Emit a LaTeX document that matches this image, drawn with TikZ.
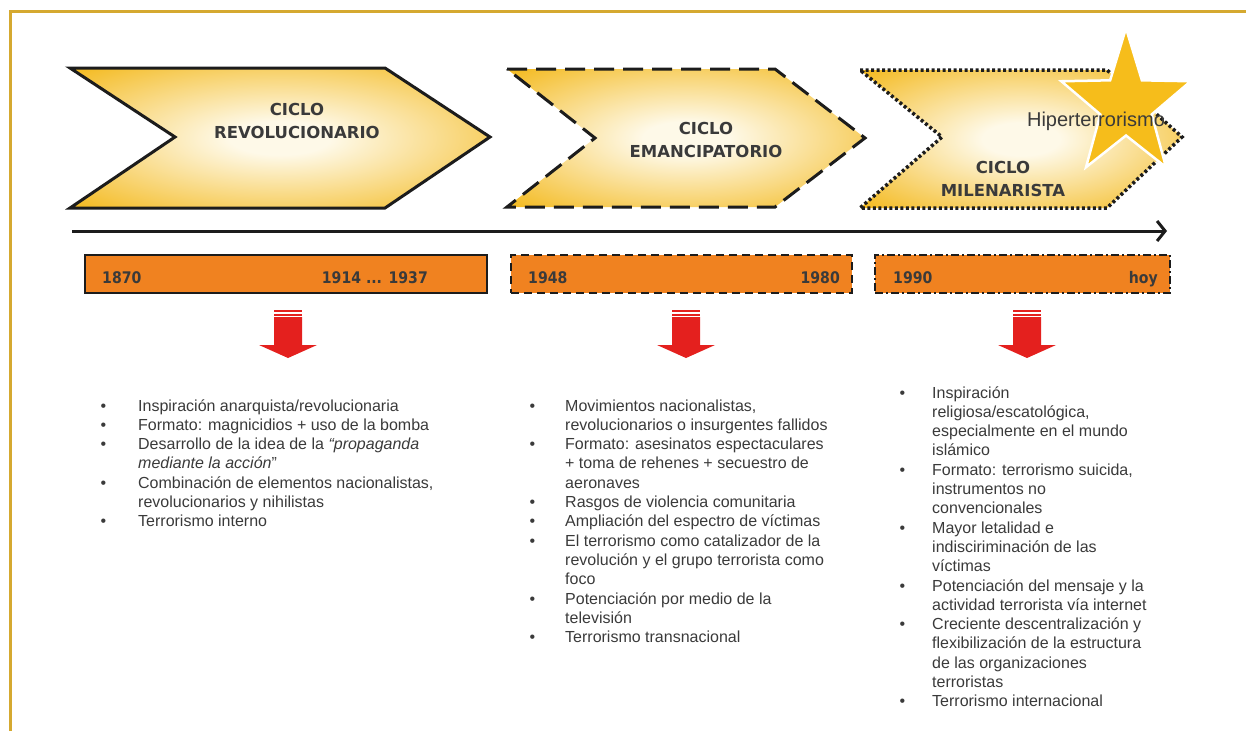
\documentclass[tikz,border=0pt]{standalone}
\usepackage{fontspec}
\setmainfont{Liberation Sans}
\newfontfamily\headfont{DejaVu Sans}
\newfontfamily\datefont{DejaVu Sans}[FakeStretch=0.88]
\usetikzlibrary{arrows.meta}

\definecolor{framegold}{HTML}{D5A930}
\definecolor{chevout}{HTML}{F4BC26}
\definecolor{chevin}{HTML}{FEF9E8}
\definecolor{chevline}{HTML}{1C1C1C}
\definecolor{barorange}{HTML}{F08220}
\definecolor{arrowred}{HTML}{E4201E}
\definecolor{starcol}{HTML}{F6BD1B}
\definecolor{txtgray}{HTML}{3A3A3A}

\pgfdeclareradialshading{chevshade}{\pgfpoint{0bp}{0bp}}{%
  color(0bp)=(chevin); color(6bp)=(chevin); color(34bp)=(chevout); color(50bp)=(chevout)}

\newlength{\bulgap}
\newcommand{\itm}{\llap{\textbullet\hspace{\bulgap}}}

\begin{document}
\begin{tikzpicture}[x=1pt, y=-1pt,
    chev/.style={line width=3pt, draw=chevline, shade, shading=chevshade, line join=miter},
    cyclename/.style={font=\headfont\bfseries\fontsize{16.5}{23}\selectfont, text=txtgray, align=center, anchor=base, inner sep=0pt},
    datebar/.style={draw=chevline, fill=barorange, line width=2pt, inner sep=0pt, minimum height=38pt},
    datetxt/.style={font=\datefont\bfseries\fontsize{16}{18}\selectfont, text=txtgray, inner sep=0pt},
    coltext/.style={font=\fontsize{16}{19.3}\selectfont, text=txtgray, align=left, anchor=base west, inner sep=0pt},
    hstar/.style={fill=starcol, draw=white, line width=2.5pt, line join=miter}]
  \useasboundingbox (0,0) rectangle (1246,731);
  % marco
  \draw[framegold, line width=3pt] (10,731) -- (10,11) -- (1246,11);

  % ciclos
  \draw[chev] (70,68) -- (385,68) -- (490,137) -- (385,208) -- (70,208) -- (175,137) -- cycle;
  \draw[chev, dash pattern=on 20pt off 9pt] (507,69) -- (775,69) -- (865,138) -- (775,207) -- (507,207) -- (595,138) -- cycle;
  \draw[chev, line width=3.5pt, dash pattern=on 3pt off 2.5pt] (860,70) -- (1107,70) -- (1182,137) -- (1107,208) -- (860,208) -- (942,137) -- cycle;
  \draw[hstar, shift={(1126,105)}, yscale=1.13] (-90:68)
    \foreach \k in {0,...,4} {-- (-54+72*\k:27) -- (-18+72*\k:68)} -- cycle;

  % (base = ultima linea)
  \node[cyclename] (rev) at (297,138.5) {CICLO\\REVOLUCIONARIO};
  \node[cyclename] (eman) at (706,157) {CICLO\\EMANCIPATORIO};
  \node[cyclename] (mil) at (1003,196.5) {CICLO\\MILENARISTA};
  \node[font=\fontsize{20}{22}\selectfont, text=txtgray, anchor=base, inner sep=0pt] (hiper) at (1096,126) {Hiperterrorismo};

  % eje temporal
  \coordinate (tl0) at (72,231);
  \coordinate (tl1) at (1167,231);
  \draw[chevline, line width=3pt, -{Straight Barb[length=8pt, width=20pt]}] (tl0) -- (tl1);

  \node[datebar, minimum width=402pt] (bar1) at (286,274) {};
  \node[datebar, minimum width=341pt, dash pattern=on 8pt off 5pt] (bar2) at (681.5,274) {};
  \node[datebar, minimum width=295pt, dash pattern=on 8pt off 3pt on 2pt off 3pt] (bar3) at (1022.5,274) {};
  \node[datetxt, anchor=base west] (d1870) at (102,283) {1870};
  \node[datetxt, anchor=base east] (d1914) at (428,283) {1914 ... 1937};
  \node[datetxt, anchor=base west] (d1948) at (528,283) {1948};
  \node[datetxt, anchor=base east] (d1980) at (840,283) {1980};
  \node[datetxt, anchor=base west] (d1990) at (893,283) {1990};
  \node[datetxt, anchor=base east] (dhoy) at (1158,283) {hoy};

  % flechas rojas
  \foreach \cx in {288,686,1027} {
    \fill[arrowred] (\cx-14,310) rectangle (\cx+14,312);
    \fill[arrowred] (\cx-14,313.5) rectangle (\cx+14,315.5);
    \fill[arrowred] (\cx-14,317) -- (\cx+14,317) -- (\cx+14,345) -- (\cx+29,345)
      -- (\cx,358) -- (\cx-29,345) -- (\cx-14,345) -- cycle;
  }

  % listas (base = ultima linea)
  \node[coltext, execute at begin node={\setlength{\bulgap}{32pt}}] (list1) at (138,526.8) {%
    \itm Inspiración anarquista/revolucionaria\\
    \itm Formato: magnicidios + uso de la bomba\\
    \itm Desarrollo de la idea de la \textit{“propaganda}\\
    \textit{mediante la acción}”\\
    \itm Combinación de elementos nacionalistas,\\
    revolucionarios y nihilistas\\
    \itm Terrorismo interno};
  \node[coltext, execute at begin node={\setlength{\bulgap}{30pt}}] (list2) at (565,642.6) {%
    \itm Movimientos nacionalistas,\\
    revolucionarios o insurgentes fallidos\\
    \itm Formato: asesinatos espectaculares\\
    + toma de rehenes + secuestro de\\
    aeronaves\\
    \itm Rasgos de violencia comunitaria\\
    \itm Ampliación del espectro de víctimas\\
    \itm El terrorismo como catalizador de la\\
    revolución y el grupo terrorista como\\
    foco\\
    \itm Potenciación por medio de la\\
    televisión\\
    \itm Terrorismo transnacional};
  \node[coltext, execute at begin node={\setlength{\bulgap}{27pt}}] (list3) at (932,706.8) {%
    \itm Inspiración\\
    religiosa/escatológica,\\
    especialmente en el mundo\\
    islámico\\
    \itm Formato: terrorismo suicida,\\
    instrumentos no\\
    convencionales\\
    \itm Mayor letalidad e\\
    indisciriminación de las\\
    víctimas\\
    \itm Potenciación del mensaje y la\\
    actividad terrorista vía internet\\
    \itm Creciente descentralización y\\
    flexibilización de la estructura\\
    de las organizaciones\\
    terroristas\\
    \itm Terrorismo internacional};
\end{tikzpicture}
\end{document}
